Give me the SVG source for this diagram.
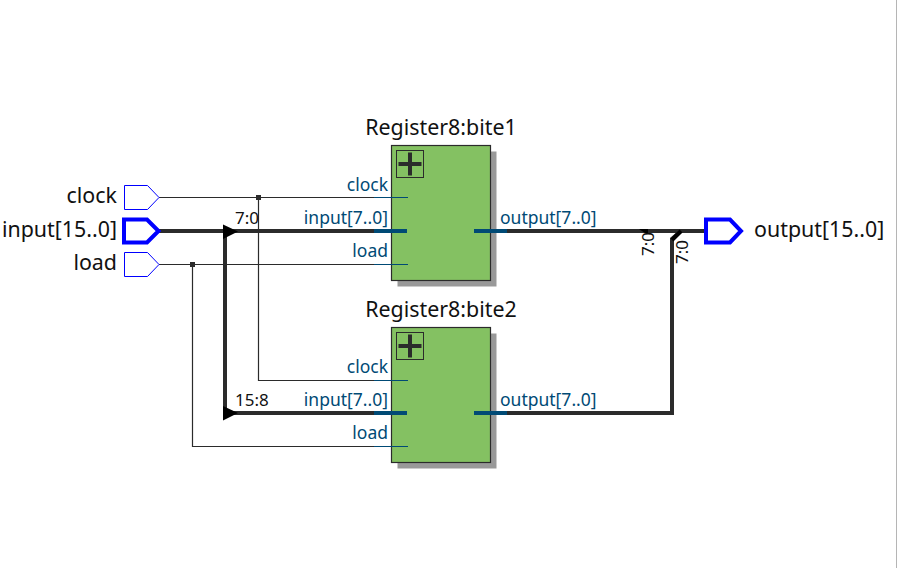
<svg xmlns="http://www.w3.org/2000/svg" width="898" height="568" viewBox="0 0 898 568">
<defs>
<style>
text{font-family:"Noto Sans","Open Sans",sans-serif}
.lbl{font-size:21.400px;fill:#111}
.port{font-size:17.500px;fill:#004a75}
.bit{font-size:17px;fill:#111}
.w{fill:none;stroke:#2b2b2b;stroke-width:1.2}
.b{fill:none;stroke:#2b2b2b;stroke-width:4}
.pw{fill:none;stroke:#004a75;stroke-width:1.2}
.pb{fill:none;stroke:#004a75;stroke-width:4}
.pin{fill:#fff;stroke:#0000ff;stroke-width:1}
.pinb{fill:#fff;stroke:#0000ff;stroke-width:4}
.shadow{fill:#999}
.body{fill:#84c162;stroke:#2b2b2b;stroke-width:1.2}
.plusbox{fill:none;stroke:#2b2b2b;stroke-width:1}
.plus{fill:none;stroke:#2b2b2b;stroke-width:4}
.dot{fill:#2b2b2b}
</style>
<g id="blockshape">
<rect class="shadow" x="6" y="6" width="99" height="135"/>
<rect class="body" x="0" y="0" width="99" height="135"/>
<rect class="plusbox" x="5" y="5" width="27" height="27"/>
<path class="plus" d="M7 18.500H30M18.500 7V30"/>
</g>
</defs>
<rect width="898" height="568" fill="#fff"/>
<path d="M896.500 0V568" stroke="#b5b5b5" stroke-width="1" fill="none"/>
<g id="connectors">
<path class="w" d="M159 197.500H374M258.500 197.500V380.500H374"/>
<path class="w" d="M159 264.500H374M192.500 264.500V446.500H374"/>
<path class="b" d="M159 231H374M225 231V413H374"/>
<path class="b" d="M507 231H705M507 413H672V239L681 231"/>
<path d="M223 224.500L238 231.500L223 239Z M223 406L238 413L223 420.500Z" fill="#000"/>
<path d="M639 229H648V233H645Z" fill="#000"/>
<path d="M672 240L681 231" stroke="#000" stroke-width="4" fill="none"/>
<rect class="dot" x="256" y="195" width="5" height="5"/>
<rect class="dot" x="190" y="262" width="5" height="5"/>
<text class="bit" x="235" y="224">7:0</text>
<text class="bit" x="235" y="406">15:8</text>
<text class="bit" transform="translate(654 256) rotate(-90)">7:0</text>
<text class="bit" transform="translate(688 264) rotate(-90)">7:0</text>
</g>
<g id="clock">
<path class="pin" d="M124.500 185.500H147.500L159 197.500L147.500 209.500H124.500Z"/>
<text class="lbl" x="117" y="203" text-anchor="end">clock</text>
</g>
<g id="input">
<path class="pinb" d="M124 219.500H147L158.500 231L147 242.500H124Z"/>
<text class="lbl" x="117" y="237" text-anchor="end">input[15..0]</text>
</g>
<g id="load">
<path class="pin" d="M124.500 252.500H147.500L159 264.500L147.500 276.500H124.500Z"/>
<text class="lbl" x="117" y="270" text-anchor="end">load</text>
</g>
<g id="output">
<path class="pinb" d="M706 219.500H730L741 231L730 242.500H706Z"/>
<text class="lbl" x="754" y="237">output[15..0]</text>
</g>
<g id="bite1">
<text class="lbl" x="441" y="135" text-anchor="middle">Register8:bite1</text>
<use href="#blockshape" x="391.500" y="145.500"/>
<path class="pw" d="M374 197.500H408M374 264.500H408"/>
<path class="pb" d="M374 231H407M474 231H507"/>
<text class="port" x="388" y="191" text-anchor="end">clock</text>
<text class="port" x="388" y="224" text-anchor="end">input[7..0]</text>
<text class="port" x="388" y="257" text-anchor="end">load</text>
<text class="port" x="500" y="224">output[7..0]</text>
</g>
<g id="bite2">
<text class="lbl" x="441" y="317" text-anchor="middle">Register8:bite2</text>
<use href="#blockshape" x="391.500" y="327.500"/>
<path class="pw" d="M374 380.500H408M374 446.500H408"/>
<path class="pb" d="M374 413H407M474 413H507"/>
<text class="port" x="388" y="373" text-anchor="end">clock</text>
<text class="port" x="388" y="406" text-anchor="end">input[7..0]</text>
<text class="port" x="388" y="439" text-anchor="end">load</text>
<text class="port" x="500" y="406">output[7..0]</text>
</g>
</svg>
